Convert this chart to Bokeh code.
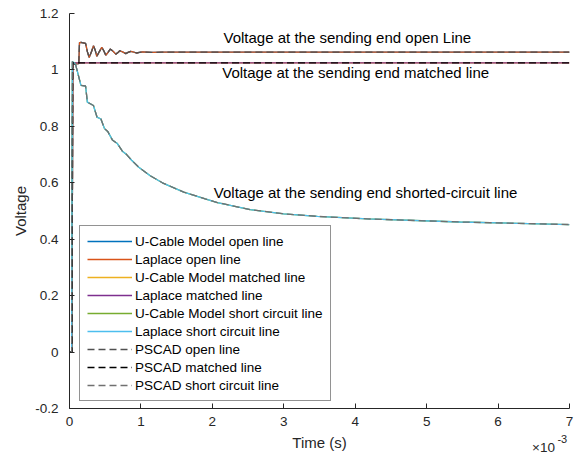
from bokeh.plotting import figure
from bokeh.models import Legend, LegendItem, Label, FixedTicker, Range1d, LinearAxis
from bokeh.embed import file_html
from bokeh.resources import INLINE

# ---- data (time in ms, i.e. x 10^-3 s) ----
t_open = [0, 0.035, 0.045, 0.13, 0.14, 0.16, 0.225, 0.25, 0.276, 0.31, 0.336, 0.36, 0.382,
          0.42, 0.452, 0.48, 0.508, 0.54, 0.570, 0.61, 0.648, 0.68, 0.704, 0.75, 0.788,
          0.82, 0.858, 0.90, 0.938, 0.98, 1.022, 1.15, 1.3, 7.0]
v_open = [0, 0, 1.020, 1.022, 1.097, 1.098, 1.094, 1.065, 1.044, 1.066, 1.086, 1.070, 1.048,
          1.066, 1.080, 1.068, 1.052, 1.062, 1.074, 1.066, 1.056, 1.062, 1.068, 1.063, 1.058,
          1.062, 1.066, 1.063, 1.060, 1.062, 1.064, 1.062, 1.063, 1.063]

t_matched = [0, 0.035, 0.045, 7.0]
v_matched = [0, 0, 1.025, 1.025]

t_short = [0, 0.03, 0.04, 0.085, 0.16, 0.225, 0.25, 0.335, 0.385, 0.44, 0.49, 0.535, 0.60,
           0.67, 0.74, 0.80, 0.87, 0.97, 1.13, 1.30, 1.60, 1.90, 2.07, 2.53, 3.0, 3.47,
           4.17, 5.47, 7.0]
v_short = [0, 0, 1.03, 1.02, 0.945, 0.943, 0.886, 0.874, 0.833, 0.826, 0.792, 0.782, 0.752,
           0.739, 0.712, 0.700, 0.680, 0.655, 0.625, 0.600, 0.567, 0.543, 0.530, 0.505,
           0.490, 0.481, 0.472, 0.461, 0.452]

x_ticks = [0, 1, 2, 3, 4, 5, 6, 7]
y_ticks = [-0.2, 0, 0.2, 0.4, 0.6, 0.8, 1.0, 1.2]
y_tick_labels = ["-0.2", "0", "0.2", "0.4", "0.6", "0.8", "1", "1.2"]
exponent_base = "\u00d710"
exponent_power = "-3"

series_names = ["U-Cable Model open line", "Laplace open line", "U-Cable Model matched line",
                "Laplace matched line", "U-Cable Model short circuit line",
                "Laplace short circuit line", "PSCAD open line", "PSCAD matched line",
                "PSCAD short circuit line"]
series_colors = ["#0072BD", "#D95319", "#EDB120", "#7E2F8E", "#77AC30", "#4DBEEE",
                 "#505050", "#000000", "#707070"]

annotations = ["Voltage at the sending end open Line",
               "Voltage at the sending end matched line",
               "Voltage at the sending end shorted-circuit line"]

FONT = "Liberation Sans"
AX = "#262626"

p = figure(width=581, height=461, output_backend="svg", toolbar_location=None,
           x_range=Range1d(0, 7), y_range=Range1d(-0.2, 1.2),
           min_border_left=69, min_border_right=12, min_border_top=13, min_border_bottom=53)
p.outline_line_color = None
p.xgrid.visible = False
p.ygrid.visible = False
p.background_fill_color = "white"
p.border_fill_color = "white"

data = [(t_open, v_open), (t_open, v_open), (t_matched, v_matched), (t_matched, v_matched),
        (t_short, v_short), (t_short, v_short), (t_open, v_open), (t_matched, v_matched),
        (t_short, v_short)]
renderers = []
for i, ((tx, vy), c) in enumerate(zip(data, series_colors)):
    if i < 6:
        r = p.line(tx, vy, line_color=c, line_width=1.3)
    else:
        r = p.line(tx, vy, line_color=c, line_width=1.3, line_dash="7 4")
    renderers.append(r)

legend = Legend(items=[LegendItem(label=n, renderers=[r]) for n, r in zip(series_names, renderers)],
                location=(10, 7), glyph_width=45, glyph_height=16, label_height=16, spacing=2,
                padding=7, margin=0, label_standoff=3, label_text_font=FONT,
                label_text_font_size="13.5px", label_text_color="black",
                border_line_color=AX, border_line_width=1, background_fill_alpha=1)
p.add_layout(legend)

for ax in (p.xaxis[0], p.yaxis[0]):
    ax.axis_line_color = AX
    ax.major_tick_line_color = AX
    ax.minor_tick_line_color = None
    ax.major_tick_in = 5
    ax.major_tick_out = 0
    ax.major_label_text_font = FONT
    ax.major_label_text_font_size = "13.5px"
    ax.major_label_text_color = AX
    ax.axis_label_text_font = FONT
    ax.axis_label_text_font_size = "15px"
    ax.axis_label_text_font_style = "normal"
    ax.axis_label_text_color = AX

p.xaxis.ticker = FixedTicker(ticks=x_ticks)
p.yaxis.ticker = FixedTicker(ticks=y_ticks)
p.yaxis.major_label_overrides = {v: s for v, s in zip(y_ticks, y_tick_labels)}
p.xaxis.axis_label = "Time (s)"
p.yaxis.axis_label = "Voltage"
p.xaxis.major_label_standoff = 8
p.yaxis.major_label_standoff = 11
p.xaxis.axis_label_standoff = 5
p.yaxis.axis_label_standoff = 3

# exponent marker "x10^-3" at the right end, as tick labels of bare extra axes
for pos, txt, size, standoff in [(6.636, exponent_base, "13.5px", -14),
                                 (6.90, exponent_power, "11px", -23)]:
    ea = LinearAxis(ticker=FixedTicker(ticks=[pos]), major_label_overrides={pos: txt},
                    axis_line_color=None, major_tick_line_color=None,
                    minor_tick_line_color=None, major_tick_in=0, major_tick_out=0,
                    major_label_standoff=standoff, major_label_text_font=FONT,
                    major_label_text_font_size=size, major_label_text_color=AX)
    p.add_layout(ea, "below")

ann_pos = [(2.156, 1.115), (2.138, 0.992), (2.02, 0.564)]
for txt, (ax_, ay_) in zip(annotations, ann_pos):
    p.add_layout(Label(x=ax_, y=ay_, text=txt, text_font=FONT, text_font_size="15px",
                       text_color="black", text_baseline="middle", text_align="left"))

open("out.html", "w").write(file_html(p, INLINE))
